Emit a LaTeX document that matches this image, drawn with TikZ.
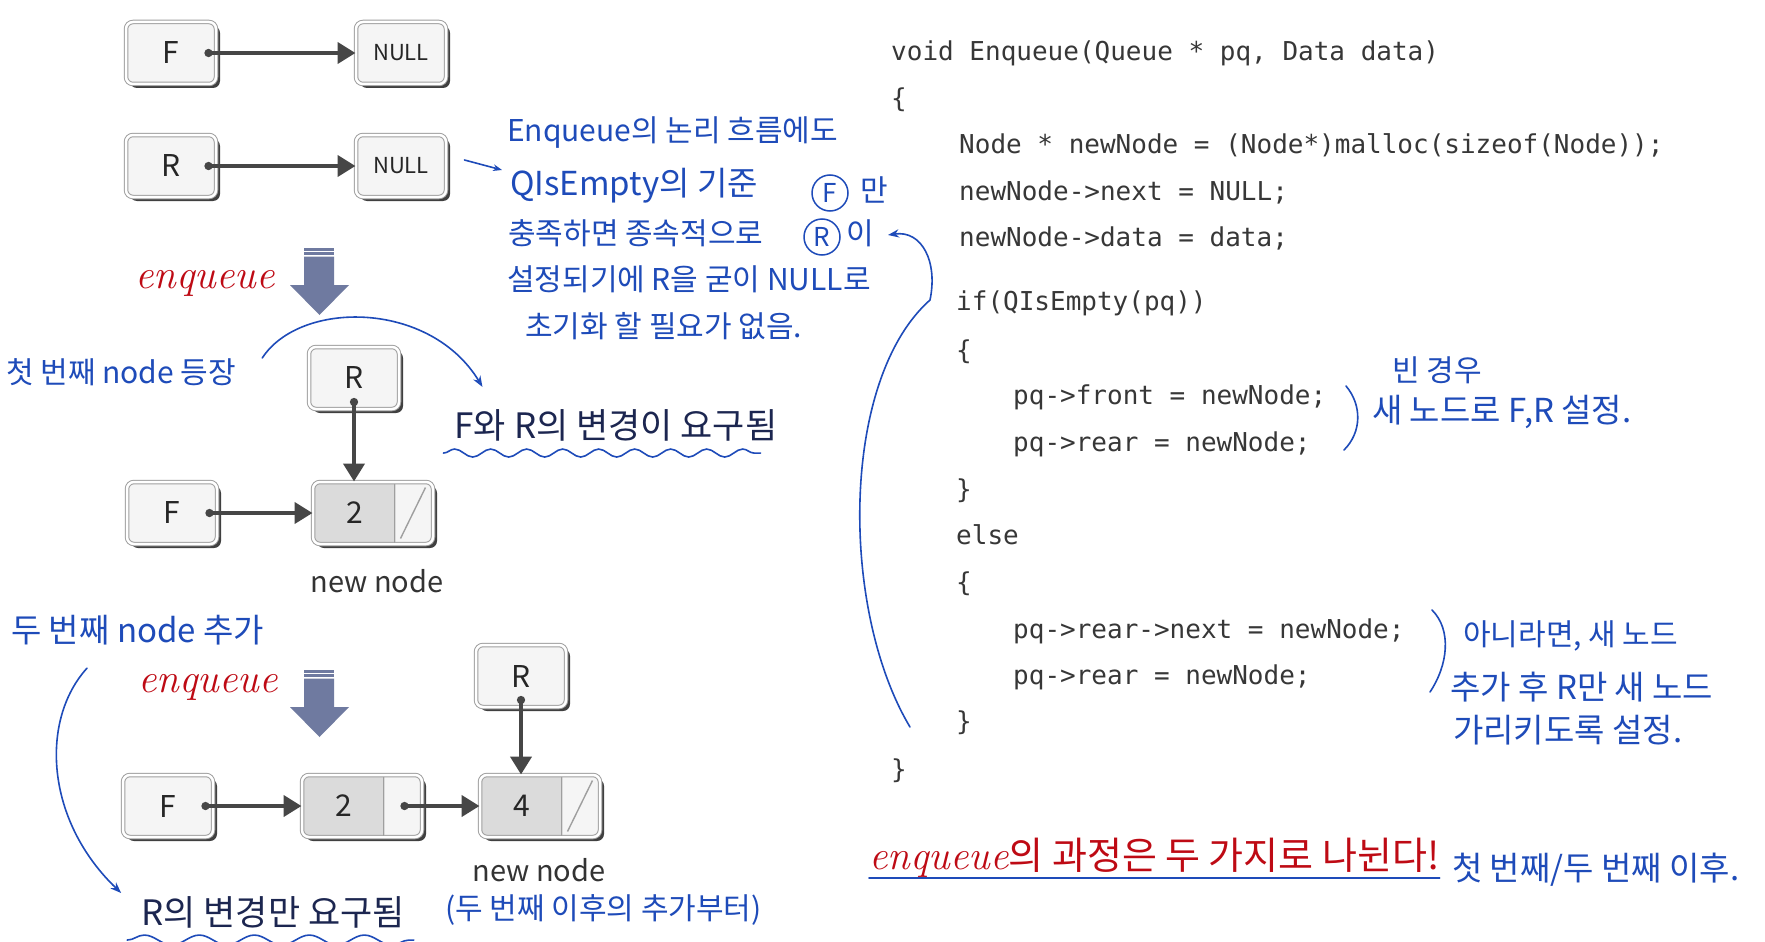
\documentclass[tikz,border=0pt]{standalone}
\usepackage{fontspec}
\usepackage{tikz}
\usetikzlibrary{shapes, arrows.meta, calc, shadows, decorations.pathmorphing}
\newfontfamily\krfont{Noto Sans CJK KR}
\newfontfamily\codefont{DejaVu Sans Mono}
\definecolor{penblue}{RGB}{30, 75, 185}
\definecolor{penred}{RGB}{190, 10, 20}
\definecolor{slateblue}{RGB}{111, 122, 160}
\definecolor{codegray}{RGB}{55, 55, 55}
\definecolor{inknavy}{RGB}{28, 38, 80}
\definecolor{linkgray}{RGB}{70, 70, 70}

\begin{document}
\begin{tikzpicture}[x=1pt, y=-1pt,
  cell/.style={draw=gray!75, line width=1pt, double=white, double distance=2.5pt, rounded corners=7pt, fill=gray!8, minimum width=90pt, minimum height=62pt, inner sep=0pt, text=black!85, font=\krfont\fontsize{30}{30}\selectfont, drop shadow={shadow xshift=4pt, shadow yshift=-4pt, fill=black!75, opacity=1}},
  nullcell/.style={cell, font=\krfont\fontsize{22}{22}\selectfont},
  listnode/.style={cell, fill=gray!28, minimum width=120pt, path picture={\fill[gray!8, sharp corners] ($(path picture bounding box.north east)+(-37,0)$) rectangle (path picture bounding box.south east);}},
  divider/.style={draw=gray!75, line width=1.4pt},
  link/.style={draw=linkgray, line width=4.2pt, {Circle[length=8pt]}-{Triangle[length=18pt,width=21pt]}},
  redword/.style={text=penred, inner sep=0pt, font=\rmfamily\itshape\fontsize{41}{41}\selectfont},
  printed/.style={text=inknavy, inner sep=0pt, font=\krfont\fontsize{35}{35}\selectfont},
  caption/.style={text=black!80, inner sep=0pt, font=\krfont\fontsize{29}{29}\selectfont},
  codeline/.style={anchor=west, inner sep=0pt, text=codegray, text height=19pt, text depth=6pt, font=\codefont\fontsize{26}{26}\selectfont},
  note/.style={text=penblue, inner sep=0pt, font=\krfont\fontsize{30}{30}\selectfont},
  ring/.style={circle, draw=penblue, line width=1.5pt, minimum size=36pt, inner sep=0pt, text=penblue, font=\krfont\fontsize{26}{26}\selectfont},
  pen/.style={draw=penblue, line width=1.6pt, line cap=round},
  slash/.style={draw=gray!75, line width=1.4pt}]

\fill[white] (0,0) rectangle (1765,942);
\useasboundingbox (0,0) rectangle (1765,942);

% empty queue
\node[cell] (F1) at (171,53) {F};
\node[nullcell] (null1) at (401,53) {NULL};
\node[cell] (R1) at (171,166) {R};
\node[nullcell] (null2) at (401,166) {NULL};
\draw[link] ($(F1.east)+(-12,0)$) -- (null1.west);
\draw[link] ($(R1.east)+(-12,0)$) -- (null2.west);

% enqueue arrows
\foreach \y in {248, 670} {
  \fill[slateblue] (304,\y) rectangle (334,\y+2.5);
  \fill[slateblue] (304,\y+4) rectangle (334,\y+6.5);
  \fill[slateblue] (304,\y+8.5) -- (334,\y+8.5) -- (334,\y+37) -- (349,\y+37) -- (319.5,\y+67) -- (290,\y+37) -- (304,\y+37) -- cycle;
}
\node[redword] (enq1) at (205,283) {enqueue};
\node[redword] (enq2) at (208,687) {enqueue};

% first node
\node[cell] (R2) at (354,378) {R};
\node[cell] (F2) at (172,513) {F};
\node[listnode] (n2a) at (373,513) {2\kern37pt};
\draw[divider] ($(n2a.north east)+(-39,2)$) -- ($(n2a.south east)+(-39,-2)$);
\draw[slash] ($(n2a.south east)+(-33,-6)$) -- ($(n2a.north east)+(-8,6)$);
\draw[link] ($(R2.center)+(0,20)$) -- ($(n2a.north)+(-19,0)$);
\draw[link] ($(F2.east)+(-12,0)$) -- (n2a.west);
\node[caption] (nn1) at (377,581) {new node};
\node[printed] (lblA) at (616,425) {F와 R의 변경이 요구됨};

% second node
\node[cell] (R3) at (521,676) {R};
\node[cell] (F3) at (168,806) {F};
\node[listnode] (n2b) at (362,806) {2\kern37pt};
\node[listnode] (n4) at (540,806) {4\kern37pt};
\foreach \n in {n2b, n4}
  \draw[divider] ($(\n.north east)+(-39,2)$) -- ($(\n.south east)+(-39,-2)$);
\draw[slash] ($(n4.south east)+(-33,-6)$) -- ($(n4.north east)+(-8,6)$);
\draw[link] ($(R3.center)+(0,20)$) -- ($(n4.north)+(-19,0)$);
\draw[link] ($(F3.east)+(-12,0)$) -- (n2b.west);
\draw[link] ($(n2b.east)+(-22,0)$) -- (n4.west);
\node[caption] (nn2) at (539,870) {new node};
\node[printed] (lblB) at (273,912) {R의 변경만 요구됨};

% code
\node[codeline] (c1) at (891,54) {void Enqueue(Queue * pq, Data data)};
\node[codeline] (c2) at (891,101) {\{};
\node[codeline] (c3) at (959,147) {Node * newNode = (Node*)malloc(sizeof(Node));};
\node[codeline] (c4) at (959,194) {newNode->next = NULL;};
\node[codeline] (c5) at (959,240) {newNode->data = data;};
\node[codeline] (c6) at (956,304) {if(QIsEmpty(pq))};
\node[codeline] (c7) at (956,353) {\{};
\node[codeline] (c8) at (1013,398) {pq->front = newNode;};
\node[codeline] (c9) at (1013,445) {pq->rear = newNode;};
\node[codeline] (c10) at (956,492) {\}};
\node[codeline] (c11) at (956,538) {else};
\node[codeline] (c12) at (956,585) {\{};
\node[codeline] (c13) at (1013,632) {pq->rear->next = newNode;};
\node[codeline] (c14) at (1013,678) {pq->rear = newNode;};
\node[codeline] (c15) at (956,724) {\}};
\node[codeline] (c16) at (891,772) {\}};

% conclusion
\node[anchor=west, inner sep=0pt, text=penred, font=\krfont\fontsize{38}{38}\selectfont] (concl) at (869,858) {{\rmfamily\itshape\fontsize{41}{41}\selectfont enqueue}의 과정은 두 가지로 나뉜다!};
\draw[pen] (concl.south west) -- (concl.south east);

% handwritten notes
\node[note, anchor=west] (l1) at (507,133) {Enqueue의 논리 흐름에도};
\node[note, anchor=west, font=\krfont\fontsize{33}{33}\selectfont] (l2a) at (510,186) {QIsEmpty의 기준};
\node[ring] (ringF) at (830,193) {F};
\node[note] (l2b) at (874,190) {만};
\node[note, anchor=west] (l3a) at (508,233) {충족하면 종속적으로};
\node[ring] (ringR) at (822,237) {R};
\node[note] (l3b) at (860,233) {이};
\node[note, anchor=west] (l4) at (507,279) {설정되기에 R을 굳이 NULL로};
\node[note, anchor=west] (l5) at (525,326) {초기화 할 필요가 없음.};
\draw[pen, -{Stealth[length=9pt,open]}] ($(null2.east)+(18,-6)$) -- ($(l2a.west)+(-8,-16)$);

\node[note, anchor=west] (noteA) at (6,372) {첫 번째 node 등장};
\node[note, anchor=west, font=\krfont\fontsize{33}{33}\selectfont] (noteB) at (11,630) {두 번째 node 추가};
\node[note, anchor=west] (noteG) at (445,910) {(두 번째 이후의 추가부터)};
\draw[pen, -{Stealth[length=11pt,open]}] ($(noteA.east)+(26,-14)$) .. controls (300,300) and (430,300) .. ($(lblA.north west)+(28,-22)$);
\draw[pen, -{Stealth[length=11pt,open]}] ($(noteB.south west)+(76,23)$) .. controls (40,720) and (45,820) .. ($(lblB.west)+(-20,-19)$);
\draw[pen, decorate, decoration={snake, amplitude=4pt, segment length=36pt}] ($(lblA.south west)+(-11,12)$) -- ($(lblA.south east)+(-17,12)$);
\draw[pen, decorate, decoration={snake, amplitude=5pt, segment length=55pt}] ($(lblB.south west)+(-14,12)$) -- ($(lblB.south east)+(9,12)$);

\coordinate (curveEnd) at (910,727);
\draw[pen, -{Stealth[length=11pt,open]}] (curveEnd) .. controls (840,610) and (840,380) .. (930,300) .. controls (938,262) and (922,230) .. ($(l3b.east)+(14,2)$);

\node[note] (noteD1) at (1437,370) {빈 경우};
\node[note, anchor=west, font=\krfont\fontsize{33}{33}\selectfont] (noteD2) at (1372,412) {새 노드로 F,R 설정.};
\draw[pen] (1346,386) .. controls (1362,405) and (1362,432) .. (1344,450);

\node[note, anchor=west] (noteE1) at (1463,636) {아니라면, 새 노드};
\node[note, anchor=west, font=\krfont\fontsize{33}{33}\selectfont] (noteE2) at (1450,687) {추가 후 R만 새 노드};
\node[note, anchor=west, font=\krfont\fontsize{33}{33}\selectfont] (noteE3) at (1453,730) {가리키도록 설정.};
\draw[pen] (1432,610) .. controls (1452,630) and (1448,665) .. (1430,692);

\node[note, anchor=west, font=\krfont\fontsize{33}{33}\selectfont] (noteF) at (1452,870) {첫 번째/두 번째 이후.};

\end{tikzpicture}
\end{document}
